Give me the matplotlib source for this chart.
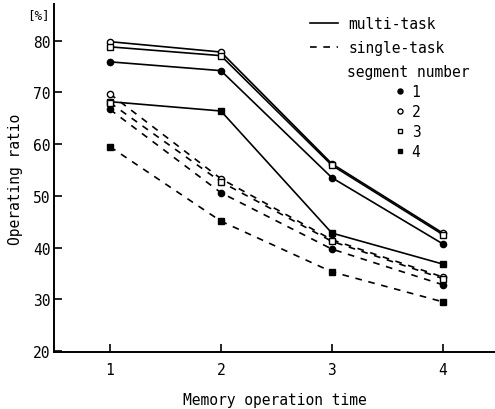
import matplotlib
matplotlib.use('Agg')
import matplotlib.pyplot as plt
from matplotlib.lines import Line2D

plt.rcParams['font.family'] = 'DejaVu Sans Mono'
plt.rcParams['font.size'] = 10.5

# Memory operation time
x = [1, 2, 3, 4]

# multi-task, by segment number
multi_1 = [75.9, 74.2, 53.5, 40.7]
multi_2 = [79.8, 77.8, 56.2, 42.8]
multi_3 = [78.8, 77.1, 55.9, 42.5]
multi_4 = [68.2, 66.4, 42.8, 36.8]

# single-task, by segment number
single_1 = [66.7, 50.6, 39.7, 32.8]
single_2 = [69.7, 53.3, 41.5, 34.3]
single_3 = [68.0, 52.7, 41.2, 34.0]
single_4 = [59.5, 45.1, 35.3, 29.5]

yticks = [20, 30, 40, 50, 60, 70, 80]
segments = ['1', '2', '3', '4']

# marker style for each segment number
seg_style = {
    '1': dict(marker='o', mfc='black', ms=4.5),
    '2': dict(marker='o', mfc='white', ms=4.5),
    '3': dict(marker='s', mfc='white', ms=3.8),
    '4': dict(marker='s', mfc='black', ms=3.8),
}

fig = plt.figure(figsize=(4.95, 4.10), dpi=100)
ax = fig.add_axes([0.11, 0.139, 0.89, 0.849])

multi = [multi_1, multi_2, multi_3, multi_4]
single = [single_1, single_2, single_3, single_4]
for seg, ys in zip(segments, multi):
    ax.plot(x, ys, color='black', lw=1.2, ls='-', mec='black', mew=1.0, **seg_style[seg])
for seg, ys in zip(segments, single):
    ax.plot(x, ys, color='black', lw=1.2, ls=(0, (4, 4)), mec='black', mew=1.0, **seg_style[seg])

ax.set_xlim(0.5, 4.47)
ax.set_ylim(19.8, 87.1)
ax.set_xticks(x)
ax.set_yticks(yticks)
ax.spines['top'].set_visible(False)
ax.spines['right'].set_visible(False)
ax.spines['left'].set_linewidth(1.4)
ax.spines['bottom'].set_linewidth(1.4)
ax.tick_params(direction='in', length=6, width=1.2)
ax.tick_params(axis='y', pad=3)
ax.tick_params(axis='x', pad=7)

ax.set_xlabel('Memory operation time', labelpad=11)
ax.set_ylabel('Operating ratio', labelpad=7)
fig.text(0.078, 0.962, '[%]', fontsize=9, ha='center', va='center')

# legend: line styles
h_lines = [Line2D([], [], color='black', lw=1.2, ls='-'),
           Line2D([], [], color='black', lw=1.2, ls=(0, (4, 4)))]
leg1 = ax.legend(h_lines, ['multi-task', 'single-task'], loc='upper left',
                 bbox_to_anchor=(310 / 495, 1 - 17 / 410), bbox_transform=fig.transFigure,
                 frameon=False, handlelength=1.9, handletextpad=0.75, labelspacing=0.6,
                 borderpad=0, borderaxespad=0)
ax.add_artist(leg1)

# legend: segment number markers
h_marks = [Line2D([], [], ls='none', color='black', mec='black', mew=1.0,
                  **dict(seg_style[s], ms=seg_style[s]['ms'] * 0.8)) for s in segments]
leg2 = ax.legend(h_marks, segments, title='segment number', loc='upper center',
                 bbox_to_anchor=(408 / 495, 1 - 65 / 410), bbox_transform=fig.transFigure,
                 frameon=False, handlelength=0.6, handletextpad=0.5, labelspacing=0.35,
                 borderpad=0, borderaxespad=0, title_fontsize=10.5)

fig.savefig('out.png', dpi=100)
